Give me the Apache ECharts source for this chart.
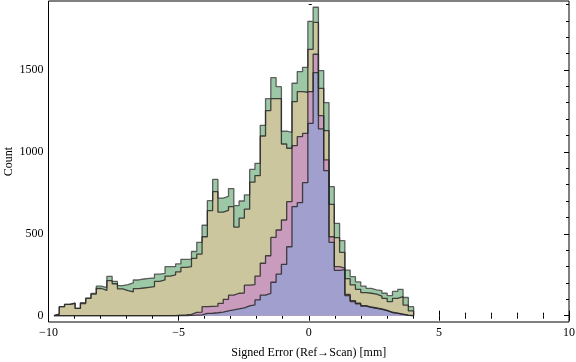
<!DOCTYPE html>
<html>
<head>
<meta charset="utf-8">
<script src="https://cdn.jsdelivr.net/npm/echarts@6/dist/echarts.min.js"></script>
<style>
html,body{margin:0;padding:0;background:#fff;}
#chart{width:576px;height:362px;}
</style>
</head>
<body>
<div id="chart"></div>
<script>
// Histogram bins: 68 equal bins between binStart and binEnd
const binStart = -9.79;
const binEnd = 4.03;

const green = [10,55,69,76,45,80,107,136,180,172,
  240,209,184,190,200,218,224,228,230,254,
  258,299,299,316,344,345,392,448,552,702,
  832,718,729,776,672,700,737,893,930,1162,
  1325,1453,1398,1126,1119,1419,1490,1516,1797,1883,
  1496,1301,788,564,458,278,238,206,181,167,
  157,153,137,122,148,161,111,55];

const tan = [10,55,69,76,45,74,106,132,166,154,
  214,195,164,153,145,165,169,173,177,210,
  218,242,249,268,295,299,350,376,482,641,
  757,632,643,666,541,595,650,815,855,1097,
  1252,1325,1325,1048,1022,1307,1368,1364,1626,1791,
  1388,1130,680,477,387,226,188,161,141,137,
  132,120,106,86,106,116,65,29];

const pink = [0,0,0,0,0,0,0,0,0,0,
  0,0,0,0,0,0,0,0,0,0,
  0,0,0,3,5,8,20,22,55,57,
  58,75,100,125,137,138,186,190,242,320,
  366,478,523,584,696,1038,1093,1113,1368,1596,
  1221,951,482,299,291,130,92,76,62,53,
  47,41,33,21,16,9,3,0];

const blue = [0,0,0,0,0,0,0,0,0,0,
  0,0,0,0,0,0,0,0,0,0,
  0,0,0,0,0,2,3,5,14,15,
  18,22,30,35,42,48,60,66,96,126,
  136,204,254,313,421,666,690,812,1174,1484,
  1140,885,448,277,281,122,86,72,59,51,
  45,39,31,19,14,8,2,0];

const xMajorTicks = [-10, -5, 0, 5, 10];
const yMajorTicks = [0, 500, 1000, 1500];
const yMinorTicks = [100,200,300,400,600,700,800,900,1100,1200,1300,1400,1600,1700,1800,1900];
const xTitle = 'Signed Error (Ref\u2192Scan) [mm]';
const yTitle = 'Count';

function toSteps(counts) {
  const w = (binEnd - binStart) / counts.length;
  const pts = [[binStart, 0]];
  counts.forEach((c, i) => pts.push([binStart + i * w, c]));
  pts.push([binEnd, 0]);
  return pts;
}

const font = 'Liberation Serif';
const yMin = -38.5, yMax = 1921;

function yAx(opts) {
  return Object.assign({
    type: 'value', min: yMin, max: yMax,
    splitLine: { show: false },
    axisLine: { show: false },
    axisLabel: { show: false },
    axisTick: { show: false }
  }, opts);
}

function xAx(opts) {
  return Object.assign({
    type: 'value', min: xMajorTicks[0], max: xMajorTicks[xMajorTicks.length - 1], interval: 5,
    splitLine: { show: false },
    axisLine: { show: false },
    axisTick: { show: true, inside: true, length: 5, lineStyle: { color: '#000', width: 1 } },
    minorTick: { show: true, splitNumber: 5, length: 3, lineStyle: { color: '#000', width: 1 } },
    minorSplitLine: { show: false }
  }, opts);
}

function fmtX(v) { return v < 0 ? '\u2212' + Math.abs(v) : String(v); }
function fmtY(v) { return String(Math.round(v)); }

const lineColor = 'rgba(40,40,40,0.85)';
function ser(name, counts, color, edge) {
  return {
    type: 'line', name: name, step: 'end', data: toSteps(counts),
    xAxisIndex: 0, yAxisIndex: 0,
    symbol: 'none', silent: true,
    lineStyle: { color: edge, width: 1.3 },
    areaStyle: { color: color, opacity: 1 }
  };
}

const chart = echarts.init(document.getElementById('chart'), null, { renderer: 'canvas' });
chart.setOption({
  animation: false,
  backgroundColor: '#fff',
  grid: { left: 48.5, right: 7, top: 1, bottom: 40, show: true, borderColor: '#000', borderWidth: 1, containLabel: false, outerBoundsMode: 'none' },
  xAxis: [
    xAx({
      position: 'bottom',
      axisLabel: { show: true, margin: 5, fontFamily: font, fontSize: 12, color: '#000', formatter: fmtX },
      name: xTitle, nameLocation: 'middle', nameGap: 25, nameMoveOverlap: false,
      nameTextStyle: { fontFamily: font, fontSize: 12, color: '#000' }
    }),
    xAx({ position: 'top', axisLabel: { show: false } })
  ],
  yAxis: [
    yAx({
      position: 'left',
      axisTick: { show: true, inside: true, length: 5, customValues: yMajorTicks, lineStyle: { color: '#000', width: 1 } },
      axisLabel: { show: true, margin: 5, customValues: yMajorTicks, fontFamily: font, fontSize: 12, color: '#000', formatter: fmtY },
      name: yTitle, nameLocation: 'middle', nameGap: 34, nameRotate: 90, nameMoveOverlap: false,
      nameTextStyle: { fontFamily: font, fontSize: 12, color: '#000' }
    }),
    yAx({
      position: 'left',
      axisTick: { show: true, inside: true, length: 3, customValues: yMinorTicks, lineStyle: { color: '#000', width: 1 } }
    }),
    yAx({
      position: 'right',
      axisTick: { show: true, inside: true, length: 5, customValues: yMajorTicks, lineStyle: { color: '#000', width: 1 } }
    }),
    yAx({
      position: 'right',
      axisTick: { show: true, inside: true, length: 3, customValues: yMinorTicks, lineStyle: { color: '#000', width: 1 } }
    })
  ],
  series: [
    ser('green', green, '#9dc8a6', 'rgba(70,70,70,0.85)'),
    ser('tan', tan, '#ccc69f', lineColor),
    ser('pink', pink, '#c99bbc', lineColor),
    ser('blue', blue, '#a09fce', lineColor)
  ]
});
</script>
</body>
</html>
